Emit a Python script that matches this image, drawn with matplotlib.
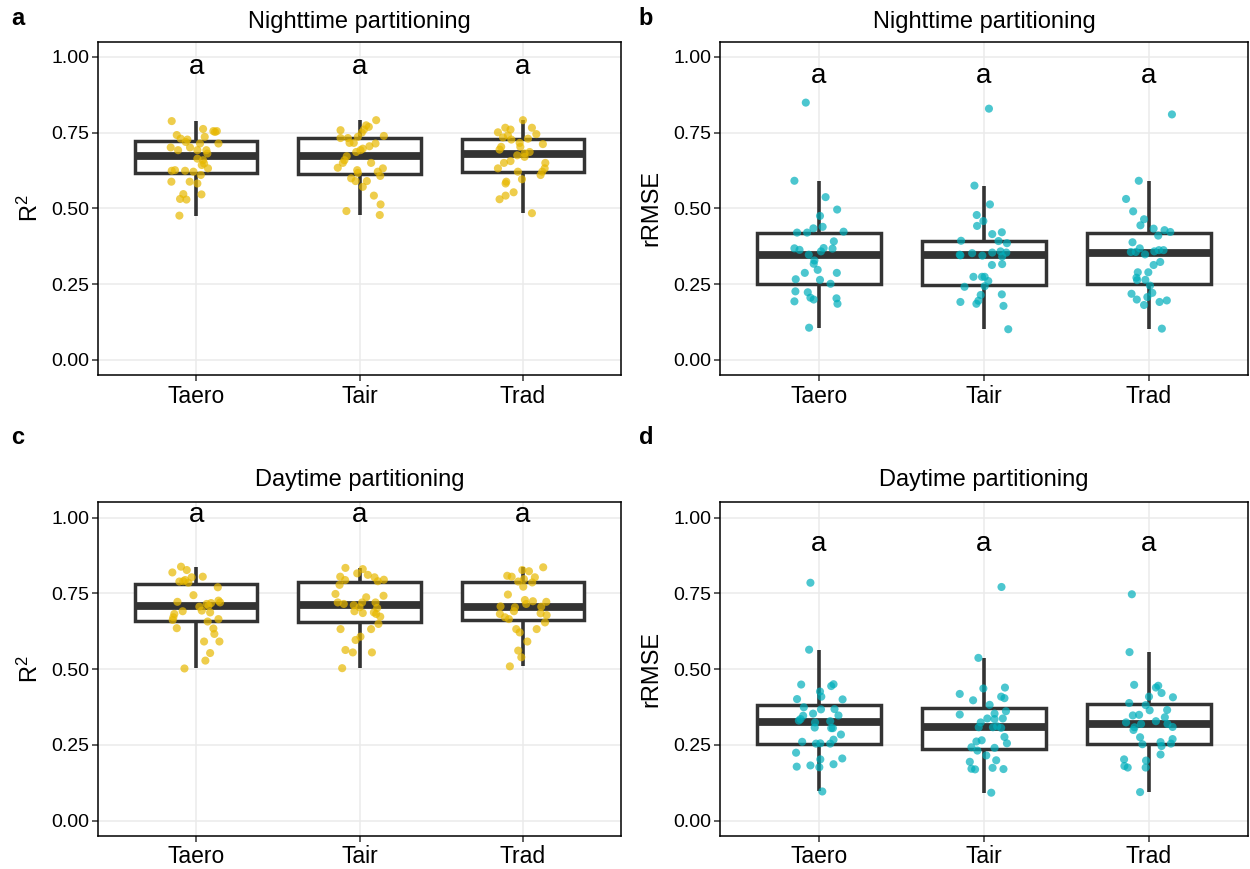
import numpy as np
import matplotlib
matplotlib.use("Agg")
import matplotlib.pyplot as plt

plt.rcParams['font.family'] = ['Liberation Sans', 'DejaVu Sans']
plt.rcParams['mathtext.default'] = 'regular'

# --- Data (values, plus horizontal jitter offsets) ---
categories = ['Taero', 'Tair', 'Trad']

# a: nighttime R2
night_r2_taero = [0.788, 0.742, 0.730, 0.727, 0.719, 0.762, 0.755, 0.755, 0.752, 0.736, 0.714, 0.714,
                  0.701, 0.692, 0.701, 0.692, 0.692, 0.681, 0.664, 0.659, 0.648, 0.643, 0.632, 0.624,
                  0.624, 0.626, 0.621, 0.610, 0.588, 0.588, 0.582, 0.547, 0.531, 0.529, 0.546, 0.476]
night_r2_taero_jit = [-0.149, -0.118, -0.094, -0.053, -0.063, 0.043, 0.106, 0.127, 0.116, 0.053, 0.137, 0.024,
                      -0.155, -0.110, -0.037, 0.008, 0.063, 0.069, 0.008, 0.043, 0.049, 0.035, 0.073, -0.067,
                      -0.149, -0.129, -0.016, 0.029, -0.151, -0.039, 0.008, -0.078, -0.098, -0.059, 0.033, -0.102]
night_r2_tair = [0.791, 0.774, 0.769, 0.760, 0.750, 0.758, 0.739, 0.732, 0.732, 0.736, 0.716, 0.716,
                 0.714, 0.705, 0.697, 0.692, 0.686, 0.672, 0.659, 0.650, 0.650, 0.634, 0.626, 0.617,
                 0.632, 0.621, 0.607, 0.599, 0.590, 0.590, 0.571, 0.542, 0.513, 0.491, 0.478]
night_r2_tair_jit = [0.102, 0.041, 0.057, 0.027, 0.014, -0.116, 0.149, -0.116, -0.071, -0.010, -0.061, -0.035,
                     0.098, 0.061, 0.020, 0.006, -0.020, -0.078, -0.092, -0.102, 0.071, -0.133, -0.014, -0.010,
                     0.143, 0.112, 0.127, -0.051, -0.024, 0.045, 0.020, 0.088, 0.129, -0.080, 0.124]
night_r2_trad = [0.791, 0.766, 0.760, 0.751, 0.766, 0.745, 0.741, 0.734, 0.727, 0.730, 0.712, 0.716,
                 0.703, 0.694, 0.703, 0.686, 0.681, 0.675, 0.670, 0.656, 0.650, 0.650, 0.632, 0.632,
                 0.621, 0.610, 0.621, 0.596, 0.588, 0.582, 0.553, 0.542, 0.530, 0.484]
night_r2_trad_jit = [0.000, -0.108, -0.076, -0.153, 0.055, 0.082, -0.092, -0.122, -0.071, 0.031, 0.122, -0.020,
                     -0.016, -0.143, -0.133, 0.041, 0.010, -0.035, 0.010, -0.076, -0.116, 0.137, -0.153, 0.133,
                     0.118, 0.108, -0.031, -0.006, -0.102, -0.106, -0.057, -0.106, -0.143, 0.055]

# b: nighttime rRMSE
night_rmse_taero = [0.849, 0.591, 0.537, 0.496, 0.475, 0.434, 0.439, 0.420, 0.420, 0.423, 0.391, 0.368,
                    0.363, 0.369, 0.358, 0.367, 0.347, 0.328, 0.317, 0.297, 0.287, 0.287, 0.266, 0.264,
                    0.251, 0.226, 0.223, 0.205, 0.199, 0.203, 0.185, 0.193, 0.106]
night_rmse_taero_jit = [-0.080, -0.149, 0.040, 0.110, 0.006, -0.034, 0.022, -0.072, -0.133, 0.149, 0.090, -0.149,
                        -0.118, 0.028, 0.012, 0.082, -0.062, -0.028, -0.032, -0.008, -0.086, 0.108, -0.141, 0.006,
                        0.070, -0.143, -0.068, -0.052, -0.032, 0.106, 0.112, -0.149, -0.060]
night_rmse_tair = [0.829, 0.575, 0.513, 0.478, 0.458, 0.442, 0.415, 0.421, 0.393, 0.392, 0.385, 0.347,
                   0.352, 0.344, 0.354, 0.358, 0.354, 0.341, 0.345, 0.316, 0.313, 0.274, 0.274, 0.274,
                   0.260, 0.241, 0.243, 0.214, 0.216, 0.191, 0.195, 0.185, 0.178, 0.101]
night_rmse_tair_jit = [0.030, -0.058, 0.036, -0.044, -0.004, -0.042, 0.050, 0.108, -0.139, 0.088, 0.139, -0.147,
                       -0.072, -0.010, 0.050, 0.100, 0.135, 0.110, -0.143, 0.110, 0.048, -0.064, -0.012, 0.004,
                       0.026, -0.118, 0.004, -0.020, 0.108, -0.143, -0.034, -0.046, 0.118, 0.147]
night_rmse_trad = [0.810, 0.591, 0.531, 0.490, 0.464, 0.444, 0.433, 0.428, 0.422, 0.410, 0.388, 0.368,
                   0.356, 0.356, 0.348, 0.358, 0.362, 0.362, 0.323, 0.313, 0.289, 0.289, 0.271, 0.263,
                   0.264, 0.245, 0.221, 0.218, 0.199, 0.207, 0.181, 0.191, 0.196, 0.103]
night_rmse_trad_jit = [0.139, -0.062, -0.139, -0.096, -0.030, -0.052, 0.028, 0.094, 0.129, 0.056, -0.100, -0.056,
                       -0.110, -0.080, -0.024, 0.032, 0.060, 0.088, 0.068, 0.028, -0.004, -0.068, -0.076, -0.072,
                       -0.022, 0.006, 0.020, -0.106, -0.074, -0.010, -0.030, 0.064, 0.108, 0.078]

# c: daytime R2
day_r2_taero = [0.838, 0.827, 0.819, 0.805, 0.803, 0.794, 0.789, 0.790, 0.785, 0.770, 0.744, 0.722,
                0.706, 0.715, 0.718, 0.726, 0.720, 0.709, 0.693, 0.687, 0.691, 0.682, 0.671, 0.662,
                0.657, 0.665, 0.635, 0.634, 0.616, 0.591, 0.591, 0.553, 0.528, 0.502]
day_r2_taero_jit = [-0.092, -0.057, -0.145, 0.041, -0.027, -0.067, -0.102, -0.078, -0.047, 0.133, -0.016, -0.114,
                    0.020, 0.065, 0.092, 0.137, 0.147, 0.076, 0.035, 0.086, -0.082, -0.133, -0.139, -0.143,
                    0.071, 0.137, -0.118, 0.106, 0.112, 0.049, 0.143, 0.086, 0.057, -0.071]
day_r2_tair = [0.834, 0.830, 0.805, 0.816, 0.811, 0.803, 0.790, 0.795, 0.794, 0.778, 0.748, 0.742,
               0.737, 0.720, 0.715, 0.711, 0.720, 0.720, 0.704, 0.702, 0.691, 0.685, 0.687, 0.682,
               0.673, 0.649, 0.632, 0.632, 0.607, 0.596, 0.563, 0.555, 0.555, 0.503]
day_r2_tair_jit = [-0.086, 0.020, -0.118, -0.014, 0.051, 0.092, 0.112, 0.149, -0.088, -0.122, -0.147, 0.147,
                   0.041, -0.133, -0.096, -0.035, 0.098, 0.016, 0.000, 0.108, -0.031, 0.020, 0.088, 0.102,
                   0.127, 0.116, -0.116, 0.071, 0.006, -0.024, -0.086, -0.041, 0.076, -0.106]
day_r2_trad = [0.836, 0.827, 0.823, 0.808, 0.805, 0.803, 0.797, 0.789, 0.786, 0.772, 0.746, 0.728,
               0.724, 0.722, 0.707, 0.704, 0.715, 0.706, 0.691, 0.682, 0.684, 0.671, 0.665, 0.678,
               0.654, 0.632, 0.632, 0.621, 0.591, 0.561, 0.539, 0.509]
day_r2_trad_jit = [0.124, -0.004, 0.037, -0.096, -0.069, 0.073, 0.006, -0.029, 0.057, 0.002, -0.092, 0.012,
                   0.061, 0.143, -0.137, -0.049, 0.020, 0.112, -0.055, -0.141, 0.108, -0.110, -0.086, 0.145,
                   0.135, -0.041, 0.084, -0.020, 0.027, -0.029, -0.010, -0.080]

# d: daytime rRMSE
day_rmse_taero = [0.785, 0.564, 0.449, 0.444, 0.450, 0.426, 0.409, 0.401, 0.400, 0.374, 0.367, 0.368,
                  0.353, 0.347, 0.346, 0.335, 0.330, 0.324, 0.328, 0.307, 0.305, 0.305, 0.284, 0.260,
                  0.254, 0.255, 0.254, 0.267, 0.224, 0.205, 0.202, 0.178, 0.182, 0.176, 0.186, 0.096]
day_rmse_taero_jit = [-0.052, -0.060, -0.108, 0.074, 0.088, 0.006, 0.014, -0.133, 0.143, -0.092, 0.012, 0.094,
                      -0.036, 0.118, -0.096, -0.112, -0.122, -0.024, 0.068, -0.026, 0.074, 0.084, 0.133, -0.102,
                      -0.018, 0.008, 0.068, 0.088, -0.139, 0.141, 0.008, -0.135, -0.052, 0.002, 0.088, 0.020]
day_rmse_tair = [0.771, 0.537, 0.436, 0.439, 0.418, 0.397, 0.409, 0.404, 0.382, 0.353, 0.361, 0.350,
                 0.337, 0.337, 0.324, 0.308, 0.335, 0.311, 0.306, 0.308, 0.276, 0.255, 0.265, 0.261,
                 0.242, 0.231, 0.240, 0.215, 0.194, 0.199, 0.171, 0.169, 0.174, 0.170, 0.092]
day_rmse_tair_jit = [0.106, -0.034, -0.004, 0.127, -0.147, -0.066, 0.104, 0.124, 0.034, 0.064, 0.133, -0.147,
                     0.020, 0.114, -0.020, -0.032, 0.064, 0.080, 0.104, 0.054, 0.124, 0.139, -0.014, -0.046,
                     -0.076, -0.040, 0.064, 0.014, -0.086, 0.074, -0.076, -0.054, 0.052, 0.118, 0.044]
day_rmse_trad = [0.747, 0.556, 0.448, 0.439, 0.445, 0.421, 0.407, 0.409, 0.388, 0.381, 0.364, 0.365,
                 0.347, 0.349, 0.341, 0.328, 0.324, 0.319, 0.308, 0.299, 0.319, 0.309, 0.275, 0.269,
                 0.252, 0.259, 0.246, 0.254, 0.218, 0.202, 0.198, 0.180, 0.175, 0.175, 0.094]
day_rmse_trad_jit = [-0.104, -0.118, -0.090, 0.042, 0.056, 0.076, 0.145, 0.000, -0.120, -0.020, 0.004, 0.110,
                     -0.098, -0.060, 0.096, 0.042, -0.139, -0.048, -0.088, -0.094, 0.112, 0.143, -0.054, 0.143,
                     -0.040, 0.070, 0.076, 0.133, 0.070, -0.151, -0.018, -0.149, -0.129, -0.020, -0.054]

# significance letters and where they sit
sig_letters = ['a', 'a', 'a']
sig_y = {'a': 0.945, 'b': 0.913, 'c': 0.984, 'd': 0.891}

YELLOW = '#E7B800'
TEAL = '#00AFBB'
DARK = '#333333'


def draw_panel(ax, values, jitters, color, title, ylabel, title_pad, letter_y):
    pos = np.arange(1, len(categories) + 1)

    ax.boxplot(values, positions=pos, widths=0.75, showfliers=False, showcaps=False,
               whis=1.5, patch_artist=True,
               boxprops=dict(facecolor='white', edgecolor=DARK, linewidth=2.5),
               medianprops=dict(color=DARK, linewidth=5.6, solid_capstyle='butt'),
               whiskerprops=dict(color=DARK, linewidth=2.6, solid_capstyle='butt'))

    for p, v, j in zip(pos, values, jitters):
        ax.scatter(p + np.array(j), v, s=34, color=color, alpha=0.7,
                   edgecolors='none', zorder=3)

    for p, lab in zip(pos, sig_letters):
        ax.text(p, letter_y, lab, ha='center', va='baseline', fontsize=20, color='black')

    ax.set_xlim(0.4, 3.6)
    ax.set_ylim(-0.05, 1.05)
    ax.set_xticks(pos)
    ax.set_xticklabels(categories, fontsize=16.5)
    ax.set_yticks([0, 0.25, 0.5, 0.75, 1.0])
    ax.set_yticklabels(['0.00', '0.25', '0.50', '0.75', '1.00'], fontsize=14)
    ax.tick_params(axis='both', length=4, width=1.1, color=DARK, labelcolor='black')
    ax.tick_params(axis='y', pad=2)
    ax.tick_params(axis='x', pad=3)
    ax.grid(True, color='#EBEBEB', linewidth=1.1)
    ax.set_axisbelow(True)
    for s in ax.spines.values():
        s.set_linewidth(1.1)
        s.set_color('black')

    ax.set_title(title, fontsize=17, pad=title_pad)
    ax.set_ylabel(ylabel, fontsize=17)


fig = plt.figure(figsize=(12.5, 8.69), dpi=100)

ax_a = fig.add_axes([0.0784, 0.5685, 0.4184, 0.3835])
ax_b = fig.add_axes([0.576, 0.5685, 0.4224, 0.3835])
ax_c = fig.add_axes([0.0784, 0.0383, 0.4184, 0.3835])
ax_d = fig.add_axes([0.576, 0.0383, 0.4224, 0.3835])

draw_panel(ax_a, [night_r2_taero, night_r2_tair, night_r2_trad],
           [night_r2_taero_jit, night_r2_tair_jit, night_r2_trad_jit],
           YELLOW, 'Nighttime partitioning', 'R$^2$', 9.6, sig_y['a'])
draw_panel(ax_b, [night_rmse_taero, night_rmse_tair, night_rmse_trad],
           [night_rmse_taero_jit, night_rmse_tair_jit, night_rmse_trad_jit],
           TEAL, 'Nighttime partitioning', 'rRMSE', 9.6, sig_y['b'])
draw_panel(ax_c, [day_r2_taero, day_r2_tair, day_r2_trad],
           [day_r2_taero_jit, day_r2_tair_jit, day_r2_trad_jit],
           YELLOW, 'Daytime partitioning', 'R$^2$', 11.5, sig_y['c'])
draw_panel(ax_d, [day_rmse_taero, day_rmse_tair, day_rmse_trad],
           [day_rmse_taero_jit, day_rmse_tair_jit, day_rmse_trad_jit],
           TEAL, 'Daytime partitioning', 'rRMSE', 11.5, sig_y['d'])

ax_a.yaxis.set_label_coords(-0.105, 0.5)
ax_c.yaxis.set_label_coords(-0.105, 0.5)
ax_b.yaxis.set_label_coords(-0.11, 0.5)
ax_d.yaxis.set_label_coords(-0.11, 0.5)

# panel tags
fig.text(18 / 1250, 1 - 25 / 869, 'a', fontsize=17, fontweight='bold', ha='center', va='baseline')
fig.text(646 / 1250, 1 - 25 / 869, 'b', fontsize=17, fontweight='bold', ha='center', va='baseline')
fig.text(18 / 1250, 1 - 444 / 869, 'c', fontsize=17, fontweight='bold', ha='center', va='baseline')
fig.text(646 / 1250, 1 - 444 / 869, 'd', fontsize=17, fontweight='bold', ha='center', va='baseline')

fig.savefig('out.png', dpi=100)
